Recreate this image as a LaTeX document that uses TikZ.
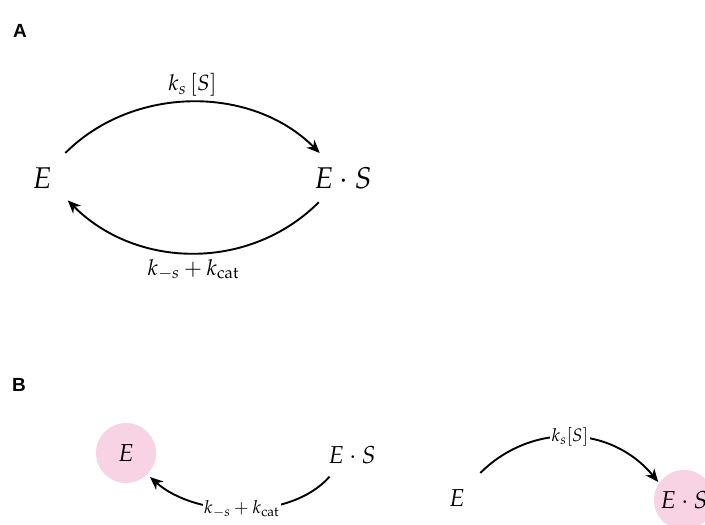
\documentclass[tikz,border=0pt]{standalone}
\usepackage[no-math]{fontspec}
\newfontfamily\panelfont{Liberation Sans}
\usepackage{mathpazo}
\usetikzlibrary{arrows.meta}
\definecolor{pinkfill}{RGB}{247,211,228}
\tikzset{
  arr/.style={line width=1.9pt,-{Stealth[length=13pt,width=11pt,inset=4pt]}},
  bigstate/.style={circle,inner sep=0pt,minimum size=68pt,font=\fontsize{30}{32}\selectfont},
  smallstate/.style={circle,inner sep=0pt,minimum size=62pt,font=\fontsize{24.5}{26}\selectfont},
  pinkstate/.style={smallstate,fill=pinkfill,minimum size=60pt},
  biglab/.style={font=\fontsize{22}{24}\selectfont},
  smalllab/.style={font=\fontsize{18}{20}\selectfont,fill=white,inner sep=1.5pt},
  panel/.style={font=\panelfont\bfseries\fontsize{19}{21}\selectfont,inner sep=0pt}
}
\begin{document}
\begin{tikzpicture}[x=1pt,y=-1pt]
\useasboundingbox (0,0) rectangle (705,525);
\clip (0,0) rectangle (705,525);
% Panel A
\node[panel] (pA) at (20,31) {A};
\node[bigstate] (E) at (42,178) {$E$};
\node[bigstate] (ES) at (343,178) {$E\cdot S$};
\draw[arr] (E.47) .. controls +(68,-68) and +(-68,-68) .. (ES.133)
  node[biglab,pos=0.5,above=1pt] (l1) {$k_s\,[S]$};
\draw[arr] (ES.-135) .. controls +(-69,69) and +(69,69) .. (E.-41)
  node[biglab,pos=0.5,below=2pt] (l2) {$k_{-s}+k_{\mathrm{cat}}$};
% Panel B
\node[panel] (pB) at (19,385) {B};
\node[pinkstate,outer sep=4pt] (E2) at (126,453) {$E$};
\node[smallstate] (ES2) at (352,455) {$E\cdot S$};
\draw[arr] (ES2.-136) .. controls +(-40,45) and +(45,40) .. (E2.-45)
  node[smalllab,pos=0.5] (l3) {$k_{-s}+k_{\mathrm{cat}}$};
\node[smallstate,minimum size=68pt] (E3) at (457,498) {$E$};
\node[pinkstate,outer sep=1.5pt] (ES3) at (684,500) {$E\cdot S$};
\draw[arr] (E3.47) .. controls +(50,-50) and +(-48,-58) .. (ES3.145)
  node[smalllab,pos=0.5] (l4) {$k_s[S]$};
\end{tikzpicture}
\end{document}
